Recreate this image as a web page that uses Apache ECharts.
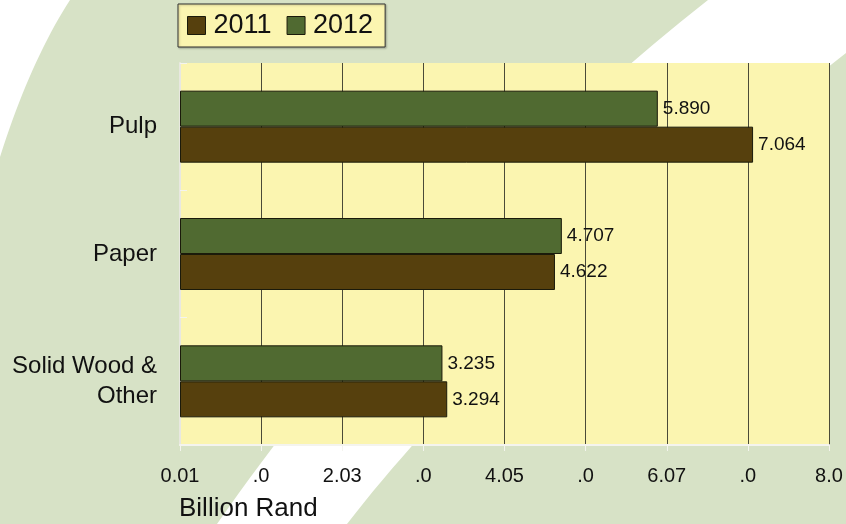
<!DOCTYPE html>
<html>
<head>
<meta charset="utf-8">
<style>
  html, body { margin: 0; padding: 0; background: #d7e2c6; }
  #chart { width: 846px; height: 524px; }
</style>
<script src="https://cdn.jsdelivr.net/npm/echarts@6/dist/echarts.min.js"></script>
</head>
<body>
<div id="chart"></div>
<script>
// Sector categories (top to bottom) and export values in billion rand
const categories = ['Pulp', 'Paper', 'Solid Wood &\nOther'];
const values2011 = [7.064, 4.622, 3.294];
const values2012 = [5.890, 4.707, 3.235];
const seriesNames = ['2011', '2012'];
// Tick labels along the value axis, one per unit step
const tickLabels = ['0.01', '.0', '2.03', '.0', '4.05', '.0', '6.07', '.0', '8.0'];

const FONT = "'Liberation Sans', Arial, Helvetica, sans-serif";
const BROWN = '#56400d';
const GREEN = '#506a31';

// sample a quadratic curve into polygon points for the backdrop shapes
function quad(p0, c, p1, n) {
  const pts = [];
  for (let i = 0; i <= n; i++) {
    const t = i / n, u = 1 - t;
    pts.push([u * u * p0[0] + 2 * u * t * c[0] + t * t * p1[0],
              u * u * p0[1] + 2 * u * t * c[1] + t * t * p1[1]]);
  }
  return pts;
}
const swoosh = quad([708, 0], [431, 218], [217, 524], 40)
  .concat(quad([347, 524], [513, 308], [914, 0], 40));
const corner = [[0, 0]].concat(quad([70, 0], [30, 62], [0, 157], 20));

const chart = echarts.init(document.getElementById('chart'), null, { renderer: 'canvas' });

const barLabel = {
  show: true,
  position: 'right',
  distance: 5,
  color: '#111',
  fontFamily: FONT,
  fontSize: 19,
  formatter: p => p.value.toFixed(3)
};

chart.setOption({
  backgroundColor: '#d7e2c6',
  animation: false,
  textStyle: { fontFamily: FONT },
  graphic: [
    { type: 'polygon', z: -10, silent: true, shape: { points: swoosh }, style: { fill: '#ffffff' } },
    { type: 'polygon', z: -10, silent: true, shape: { points: corner }, style: { fill: '#ffffff' } },
    {
      type: 'text', left: 179, top: 496,
      style: { text: 'Billion Rand', fill: '#111', font: '26px ' + FONT }
    }
  ],
  legend: {
    data: seriesNames,
    left: 178,
    top: 4,
    orient: 'horizontal',
    backgroundColor: '#fbf5b0',
    borderColor: '#333',
    borderWidth: 1,
    shadowColor: 'rgba(0,0,0,0.25)',
    shadowBlur: 2,
    shadowOffsetX: 1,
    shadowOffsetY: 1,
    padding: [8, 12, 8, 9],
    itemWidth: 18,
    itemHeight: 18,
    itemGap: 15,
    icon: 'rect',
    itemStyle: { borderColor: '#1a1a0a', borderWidth: 1 },
    textStyle: { fontSize: 27, color: '#111', fontFamily: FONT, padding: [0, 0, 0, 3] }
  },
  grid: {
    left: 180, right: 17, top: 63, bottom: 79,
    outerBoundsMode: 'none',
    show: true,
    backgroundColor: '#fbf5b0',
    borderWidth: 0
  },
  xAxis: {
    type: 'value',
    min: 0, max: 8, interval: 1,
    axisLine: { show: true, lineStyle: { color: '#f4f4ee', width: 2 } },
    axisTick: { show: true, length: 6, lineStyle: { color: '#f4f4ee', width: 1 } },
    splitLine: { show: true, lineStyle: { color: '#4a4a38', width: 1 } },
    axisLabel: {
      color: '#111', fontSize: 20, fontFamily: FONT, margin: 21,
      formatter: v => tickLabels[Math.round(v)]
    }
  },
  yAxis: {
    type: 'category',
    data: categories,
    inverse: true,
    axisLine: { show: true, lineStyle: { color: '#e8e8e0', width: 2 } },
    axisTick: { show: true, inside: true, length: 7, lineStyle: { color: '#f4f4ee', width: 1 } },
    axisLabel: {
      color: '#111', fontSize: 24, fontFamily: FONT, margin: 23,
      align: 'right', lineHeight: 30
    }
  },
  series: [
    {
      name: '2012', type: 'bar', data: values2012,
      barWidth: 36, barGap: '0%',
      itemStyle: { color: GREEN, borderColor: '#1a1a0a', borderWidth: 1 },
      label: barLabel
    },
    {
      name: '2011', type: 'bar', data: values2011,
      barWidth: 36, barGap: '0%',
      itemStyle: { color: BROWN, borderColor: '#1a1a0a', borderWidth: 1 },
      label: barLabel
    }
  ]
});
</script>
</body>
</html>
